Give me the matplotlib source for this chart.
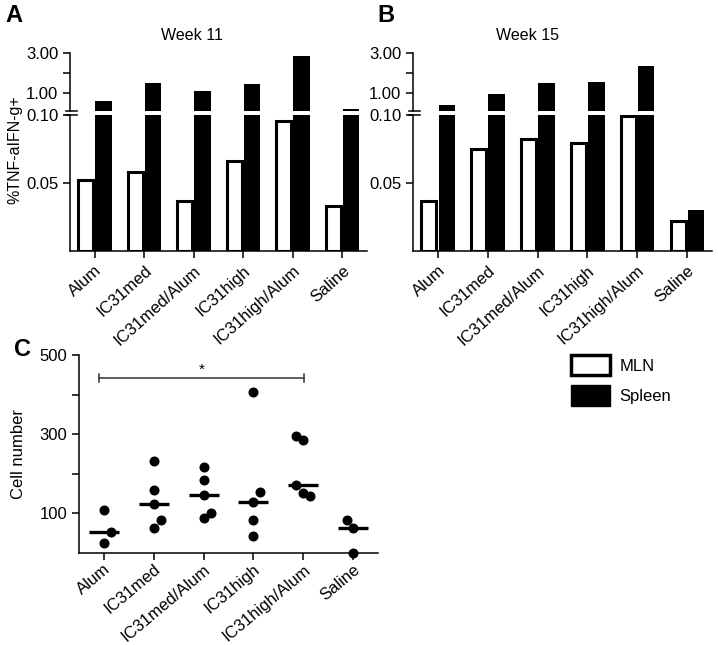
import matplotlib.pyplot as plt
import numpy as np
from matplotlib.patches import Patch

plt.rcParams['font.family'] = ['Liberation Sans', 'DejaVu Sans']

groups = ["Alum", "IC31med", "IC31med/Alum", "IC31high", "IC31high/Alum", "Saline"]

# panel A, week 11
mln_w11 = [0.0524, 0.0578, 0.0369, 0.0657, 0.0953, 0.0332]
spleen_w11 = [0.60, 1.50, 1.08, 1.47, 2.83, 0.22]
# panel B, week 15
mln_w15 = [0.0366, 0.075, 0.082, 0.079, 0.099, 0.022]
spleen_w15 = [0.41, 0.97, 1.52, 1.57, 2.36, 0.030]

# panel C, cell numbers per animal
cells = [
    [108, 52, 25],
    [233, 158, 123, 82, 62],
    [218, 183, 147, 100, 87],
    [407, 153, 128, 83, 42],
    [296, 285, 170, 152, 144],
    [83, 62, 0],
]
jitter = [
    [0, 0.14, 0],
    [0, 0, 0, 0.15, 0],
    [0, 0, 0, 0.15, 0],
    [0, 0.14, 0, 0, 0],
    [-0.15, 0, -0.15, 0, 0.13],
    [-0.13, 0, 0],
]

W, H = 718, 645
fig = plt.figure(figsize=(W / 100, H / 100), dpi=100)


def px_axes(x0, y0, x1, y1):
    return fig.add_axes([x0 / W, 1 - y1 / H, (x1 - x0) / W, (y1 - y0) / H])


def style(ax, bottom=True):
    for s in ["top", "right"]:
        ax.spines[s].set_visible(False)
    ax.spines["left"].set_linewidth(1.1)
    ax.spines["bottom"].set_linewidth(1.1)
    if not bottom:
        ax.spines["bottom"].set_visible(False)
    ax.tick_params(width=1.1, length=5, labelsize=12, direction="out")


def bar_panel(x0, x1, mln, spleen, title, title_x):
    x = np.arange(len(groups))
    up = px_axes(x0, 53, x1, 111)
    lo = px_axes(x0, 114.6, x1, 251)
    # MLN values all sit below the break, so they only go in the lower part
    lo.bar(x - 0.18, mln, width=0.3, facecolor="white", edgecolor="black", linewidth=2.2)
    for ax in (up, lo):
        ax.bar(x + 0.18, spleen, width=0.33, facecolor="black", edgecolor="black", linewidth=0)
        ax.set_xlim(-0.5, 5.5)
    up.set_ylim(0.1, 3.0)
    up.set_yticks([1.0, 3.0])
    up.set_yticks([2.0], minor=True)
    up.set_yticklabels(["1.00", "3.00"])
    up.set_xticks([])
    style(up, bottom=False)
    up.tick_params(which="minor", width=1.1, length=5)
    lo.set_ylim(0, 0.1)
    lo.set_yticks([0.05, 0.10])
    lo.set_yticklabels(["0.05", "0.10"])
    lo.set_xticks(x)
    lo.set_xticklabels(groups, rotation=42, ha="right", rotation_mode="anchor", fontsize=12)
    style(lo)
    # break marks on the y axis
    up.plot([-0.012, 0.022], [0.0, 0.0], transform=up.transAxes, color="black", lw=1.1, clip_on=False)
    lo.plot([-0.012, 0.022], [1.0, 1.0], transform=lo.transAxes, color="black", lw=1.1, clip_on=False)
    fig.text(title_x / W, 1 - 35 / H, title, ha="center", va="center", fontsize=11.5)
    return up, lo


bar_panel(70, 367, mln_w11, spleen_w11, "Week 11", 192)
bar_panel(413, 712, mln_w15, spleen_w15, "Week 15", 527)
fig.text(15 / W, 1 - 150 / H, "%TNF-aIFN-g+", rotation=90, ha="center", va="center", fontsize=11.5)

# panel C
axc = px_axes(79, 355, 378, 552.7)
for i, vals in enumerate(cells):
    xs = i + np.array(jitter[i])
    axc.plot(xs, vals, "o", color="black", markersize=6.2, clip_on=False, zorder=3)
    m = np.median(vals)
    axc.plot([i - 0.3, i + 0.3], [m, m], color="black", lw=2.4, solid_capstyle="butt")
axc.set_xlim(-0.5, 5.5)
axc.set_ylim(0, 500)
axc.set_yticks([100, 200, 300, 400, 500])
axc.set_yticklabels(["100", "", "300", "", "500"])
axc.set_xticks(np.arange(len(groups)))
axc.set_xticklabels(groups, rotation=40, ha="right", rotation_mode="anchor", fontsize=9.8)
style(axc)
axc.tick_params(axis="x", pad=1.5)
axc.set_ylabel("Cell number", fontsize=12, labelpad=10)
# significance bar
axc.plot([-0.1, 4.02], [442, 442], color="#333333", lw=1.1)
axc.plot([-0.1, -0.1], [432, 452], color="#333333", lw=1.1)
axc.plot([4.02, 4.02], [432, 452], color="#333333", lw=1.1)
axc.text(1.96, 446, "*", ha="center", va="bottom", fontsize=11)

# legend
handles = [Patch(facecolor="white", edgecolor="black", linewidth=2.5, label="MLN"),
           Patch(facecolor="black", edgecolor="black", label="Spleen")]
fig.legend(handles=handles, loc="upper left", bbox_to_anchor=(571 / W, 1 - 355 / H),
           frameon=False, fontsize=12, handlelength=2.35, handleheight=1.5,
           labelspacing=0.6, handletextpad=0.55, borderpad=0, borderaxespad=0)

# panel letters
fig.text(5 / W, 1 - 4 / H, "A", fontsize=17, fontweight="bold", va="top")
fig.text(377 / W, 1 - 4 / H, "B", fontsize=17, fontweight="bold", va="top")
fig.text(14 / W, 1 - 338 / H, "C", fontsize=17, fontweight="bold", va="top")

fig.savefig("out.png", dpi=100)
